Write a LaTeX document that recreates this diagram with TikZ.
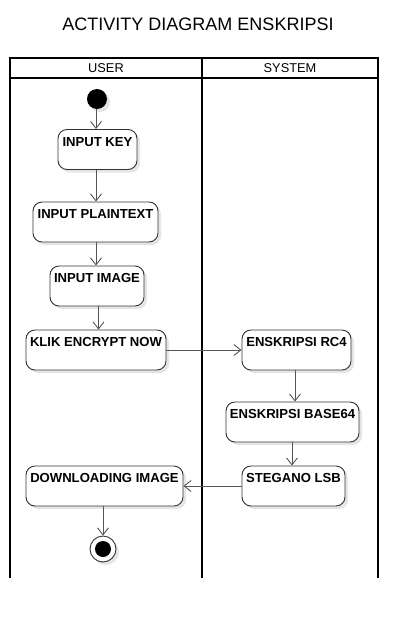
\documentclass[tikz,border=0pt]{standalone}
\usepackage{fontspec}
\setmainfont{Liberation Sans}
\usetikzlibrary{arrows.meta,shadows}
\definecolor{boxline}{HTML}{333333}
\definecolor{arrline}{HTML}{555555}
\tikzset{
  act/.style={draw=boxline, line width=0.9pt, rounded corners=9pt, fill=white,
    minimum height=40pt, inner sep=0pt,
    drop shadow={shadow xshift=3pt, shadow yshift=-3pt, fill=black!10, opacity=1}},
  acttext/.style={font=\fontsize{13.1}{15}\selectfont\bfseries, inner sep=0pt,
    text height=9.3pt, text depth=0pt},
  flow/.style={draw=arrline, line width=0.9pt, -{Straight Barb[length=7pt,width=11pt,line width=0.9pt]}},
  lane/.style={draw=black, line width=1.6pt},
  hdr/.style={font=\fontsize{12.8}{14}\selectfont, inner sep=0pt}
}
\newcommand{\actnode}[5]{%
  \node[act, minimum width=#4pt] (#1) at (#2,#3) {};
  \node[acttext] (#1t) at ([yshift=-12.5pt]#1.north) {#5};
}
\begin{document}
\begin{tikzpicture}[x=1pt,y=-1pt]
\useasboundingbox (0,0) rectangle (418,618);
% title
\node[font=\fontsize{18}{21}\selectfont, inner sep=0pt] (title) at (198,24) {ACTIVITY DIAGRAM ENSKRIPSI};
% swimlanes
\draw[lane] (10,578) -- (10,58) -- (378,58) -- (378,578);
\draw[lane] (10,78) -- (378,78);
\draw[lane] (202,58) -- (202,578);
\node[hdr] (user) at (106,68.5) {USER};
\node[hdr] (system) at (290,68.5) {SYSTEM};
% start
\node[circle, fill=black, minimum size=20pt, inner sep=0pt,
  drop shadow={shadow xshift=3pt, shadow yshift=-3pt, fill=black!10, opacity=1}] (start) at (97,99) {};
% activities
\actnode{key}{97.5}{149.5}{79}{INPUT KEY}
\actnode{plain}{95.5}{222}{125}{INPUT PLAINTEXT}
\actnode{image}{97}{286}{94}{INPUT IMAGE}
\actnode{klik}{96}{350}{140}{KLIK ENCRYPT NOW}
\actnode{down}{104.5}{486}{157}{DOWNLOADING IMAGE}
\actnode{rc4}{296.5}{350}{109}{ENSKRIPSI RC4}
\actnode{b64}{292.5}{422}{133}{ENSKRIPSI BASE64}
\actnode{steg}{293.5}{486}{103}{STEGANO LSB}
% end
\node[circle, draw=boxline, line width=0.9pt, fill=white, minimum size=26pt, inner sep=0pt,
  drop shadow={shadow xshift=3pt, shadow yshift=-3pt, fill=black!10, opacity=1}] (end) at (103,549) {};
\node[circle, fill=black, minimum size=16pt, inner sep=0pt] (endin) at (end.center) {};
% flows
\draw[flow] (start.south -| 96,0) -- (key.north -| 96,0);
\draw[flow] (key.south -| 96,0) -- (plain.north -| 96,0);
\draw[flow] (plain.south -| 96,0) -- (image.north -| 96,0);
\draw[flow] (image.south -| 98.5,0) -- (klik.north -| 98.5,0);
\draw[flow] (klik.east) -- (rc4.west);
\draw[flow] (rc4.south -| 295,0) -- (b64.north -| 295,0);
\draw[flow] (b64.south -| 292,0) -- (steg.north -| 292,0);
\draw[flow] (steg.west) -- (down.east);
\draw[flow] (down.south -| end.north) -- (end.north);
\end{tikzpicture}
\end{document}
